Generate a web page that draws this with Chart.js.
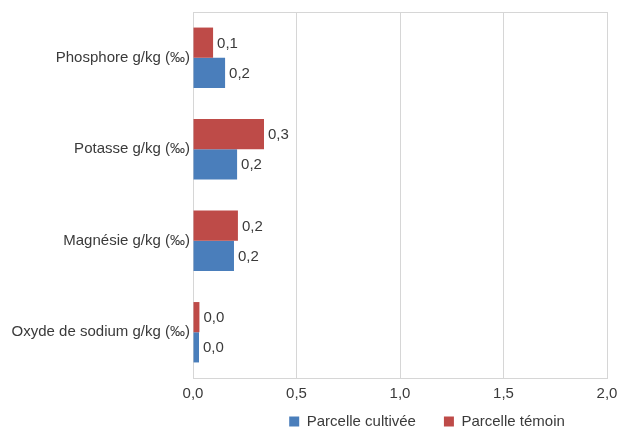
<!DOCTYPE html>
<html>
<head>
<meta charset="utf-8">
<script src="https://cdn.jsdelivr.net/npm/chart.js@4.4.1/dist/chart.umd.min.js"></script>
<style>
  html, body { margin: 0; padding: 0; background: #ffffff; }
  #wrap { width: 619px; height: 429px; position: relative; }
</style>
</head>
<body>
<div id="wrap"><canvas id="chart"></canvas></div>
<script>
// Soil analysis: nutrient content per plot (g/kg)
const categories = ['Phosphore g/kg (‰)', 'Potasse g/kg (‰)', 'Magnésie g/kg (‰)', 'Oxyde de sodium g/kg (‰)'];
const seriesNames = ['Parcelle cultivée', 'Parcelle témoin'];
const cultivee = [0.155, 0.213, 0.198, 0.029];
const temoin = [0.097, 0.343, 0.217, 0.031];
const xTickValues = [0, 0.5, 1.0, 1.5, 2.0];

const FONT = { family: '"Liberation Sans", Arial, sans-serif', size: 15 };
const TEXT = '#3a3a3a';
const GRID = '#d6d6d6';
const fmt = v => Number(v).toFixed(1).replace('.', ',');

// Value labels at the end of each bar
const valueLabels = {
  id: 'valueLabels',
  afterDatasetsDraw(chart) {
    const ctx = chart.ctx;
    ctx.save();
    ctx.font = FONT.size + 'px ' + FONT.family;
    ctx.fillStyle = TEXT;
    ctx.textAlign = 'left';
    ctx.textBaseline = 'middle';
    chart.data.datasets.forEach((ds, i) => {
      chart.getDatasetMeta(i).data.forEach((bar, j) => {
        ctx.fillText(fmt(ds.data[j]), bar.x + 4, bar.y + 1);
      });
    });
    ctx.restore();
  }
};

// Plot frame around the chart area
const plotFrame = {
  id: 'plotFrame',
  beforeDatasetsDraw(chart) {
    const { ctx, chartArea: a } = chart;
    ctx.save();
    ctx.strokeStyle = GRID;
    ctx.lineWidth = 1;
    ctx.strokeRect(Math.round(a.left) + 0.5, Math.round(a.top) + 0.5,
                   Math.round(a.right - a.left), Math.round(a.bottom - a.top));
    ctx.restore();
  }
};

// Place the legend under the right part of the plot
const legendPlacement = {
  id: 'legendPlacement',
  afterLayout(chart) {
    const lg = chart.legend;
    if (!lg) return;
    lg.left += 27; lg.right += 27;
    lg.top -= 17; lg.bottom -= 17;
  }
};

new Chart(document.getElementById('chart'), {
  type: 'bar',
  data: {
    labels: categories,
    datasets: [
      { label: seriesNames[1], data: temoin, backgroundColor: '#be4b48', borderWidth: 0 },
      { label: seriesNames[0], data: cultivee, backgroundColor: '#4a7ebb', borderWidth: 0 }
    ]
  },
  options: {
    indexAxis: 'y',
    responsive: true,
    maintainAspectRatio: false,
    animation: false,
    datasets: { bar: { categoryPercentage: 0.66, barPercentage: 1.0 } },
    layout: { padding: { top: 12, right: 12, bottom: -27, left: 0 } },
    scales: {
      x: {
        min: 0, max: 2,
        afterBuildTicks(scale) { scale.ticks = xTickValues.map(v => ({ value: v })); },
        ticks: { callback: v => fmt(v), font: FONT, color: TEXT, padding: 7, maxRotation: 0 },
        grid: { color: GRID, drawTicks: false },
        border: { display: false },
        afterFit(scale) { scale.height = 25; scale.paddingRight = 0; scale.paddingLeft = 0; }
      },
      y: {
        grid: { display: false, drawTicks: false },
        border: { display: false },
        ticks: { font: FONT, color: TEXT, padding: 3 },
        afterFit(scale) { scale.width = 193; }
      }
    },
    plugins: {
      tooltip: { enabled: false },
      legend: {
        position: 'bottom',
        fullSize: false,
        labels: {
          font: FONT, color: TEXT, boxWidth: 10, boxHeight: 10, padding: 28,
          sort: (a, b) => b.datasetIndex - a.datasetIndex
        }
      }
    }
  },
  plugins: [valueLabels, plotFrame, legendPlacement]
});
</script>
</body>
</html>
